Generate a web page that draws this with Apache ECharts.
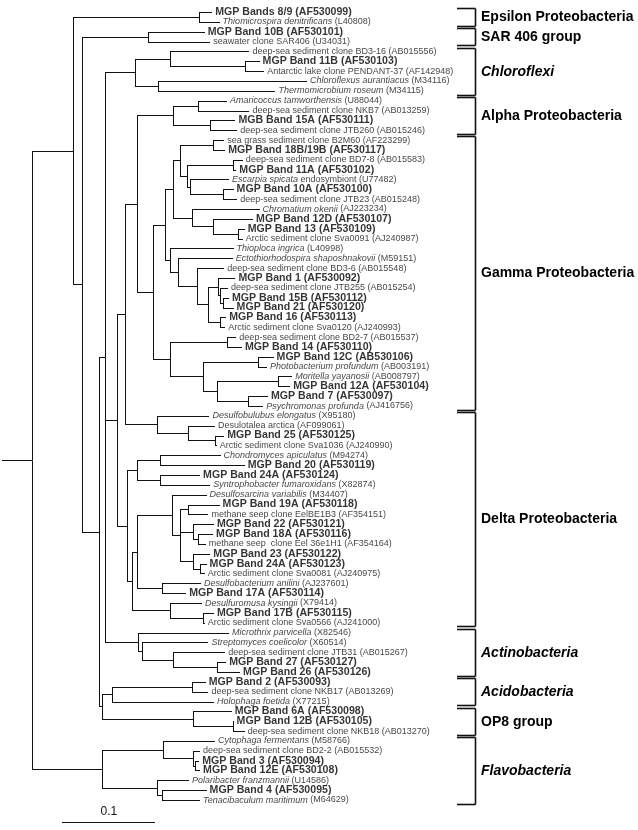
<!DOCTYPE html>
<html><head><meta charset="utf-8">
<script src="https://cdn.jsdelivr.net/npm/echarts@6/dist/echarts.min.js"></script>
<style>html,body{margin:0;padding:0;background:#fff}#c{width:638px;height:830px}</style>
</head><body><div id="c"></div>
<script>
// ---- data ----
const leafLabels = [
'MGP Bands 8/9 (AF530099)','_Thiomicrospira denitrificans_ (L40808)','MGP Band 10B (AF530101)','seawater clone SAR406 (U34031)',
'deep-sea sediment clone BD3-16 (AB015556)','MGP Band 11B (AF530103)','Antarctic lake clone PENDANT-37 (AF142948)','_Chloroflexus aurantiacus_ (M34116)',
'_Thermomicrobium roseum_ (M34115)','_Amaricoccus tamworthensis_ (U88044)','deep-sea sediment clone NKB7 (AB013259)','MGB Band 15A (AF530111)',
'deep-sea sediment clone JTB260 (AB015246)','sea grass sediment clone B2M60 (AF223299)','MGP Band 18B/19B (AF530117)','deep-sea sediment clone BD7-8 (AB015583)',
'MGP Band 11A (AF530102)','_Escarpia spicata_ endosymbiont (U77482)','MGP Band 10A (AF530100)','deep-sea sediment clone JTB23 (AB015248)',
'_Chromatium okenii_ (AJ223234)','MGP Band 12D (AF530107)','MGP Band 13 (AF530109)','Arctic sediment clone Sva0091 (AJ240987)',
'_Thioploca ingrica_ (L40998)','_Ectothiorhodospira shaposhnakovii_ (M59151)','deep-sea sediment clone BD3-6 (AB015548)','MGP Band 1 (AF530092)',
'deep-sea sediment clone JTB255 (AB015254)','MGP Band 15B (AF530112)','MGP Band 21 (AF530120)','MGP Band 16 (AF530113)',
'Arctic sediment clone Sva0120 (AJ240993)','deep-sea sediment clone BD2-7 (AB015537)','MGP Band 14 (AF530110)','MGP Band 12C (AB530106)',
'_Photobacterium profundum_ (AB003191)','_Moritella yayanosii_ (AB008797)','MGP Band 12A (AF530104)','MGP Band 7 (AF530097)',
'_Psychromonas profunda_ (AJ416756)','_Desulfobulubus elongatus_ (X95180)','Desulotalea arctica (AF099061)','MGP Band 25 (AF530125)',
'Arctic sediment clone Sva1036 (AJ240990)','_Chondromyces apiculatus_ (M94274)','MGP Band 20 (AF530119)','MGP Band 24A (AF530124)',
'_Syntrophobacter fumaroxidans_ (X82874)','_Desulfosarcina variabilis_ (M34407)','MGP Band 19A (AF530118)','methane seep clone EelBE1B3 (AF354151)',
'MGP Band 22 (AF530121)','MGP Band 18A (AF530116)','methane seep  clone Eel 36e1H1 (AF354164)','MGP Band 23 (AF530122)',
'MGP Band 24A (AF530123)','Arctic sediment clone Sva0081 (AJ240975)','_Desulfobacterium anilini_ (AJ237601)','MGP Band 17A (AF530114)',
'_Desulfuromusa kysingii_ (X79414)','MGP Band 17B (AF530115)','Arctic sediment clone Sva0566 (AJ241000)','_Microthrix parvicella_ (X82546)',
'_Streptomyces coelicolor_ (X60514)','deep-sea sediment clone JTB31 (AB015267)','MGP Band 27 (AF530127)','MGP Band 26 (AF530126)',
'MGP Band 2 (AF530093)','deep-sea sediment clone NKB17 (AB013269)','_Holophaga foetida_ (X77215)','MGP Band 6A (AF530098)',
'MGP Band 12B (AF530105)','deep-sea sediment clone NKB18 (AB013270)','_Cytophaga fermentans_ (M58766)','deep-sea sediment clone BD2-2 (AB015532)',
'MGP Band 3 (AF530094)','MGP Band 12E (AF530108)','_Polaribacter franzmannii_ (U14586)','MGP Band 4 (AF530095)',
'_Tenacibaculum maritimum_ (M64629)'
];
// cumulative distance from root to each leaf (substitutions per site)
const leafDepth = [
0.226,0.234,0.218,0.224,0.266,0.277,0.282,0.328,0.294,0.242,0.266,0.251,0.253,0.239,0.240,0.259,
0.252,0.244,0.249,0.253,0.277,0.270,0.261,0.259,0.249,0.248,0.239,0.251,0.243,0.244,0.249,0.241,
0.240,0.252,0.258,0.292,0.285,0.312,0.310,0.286,0.281,0.223,0.229,0.239,0.231,0.235,0.261,0.213,
0.224,0.220,0.234,0.222,0.228,0.227,0.219,0.224,0.220,0.218,0.214,0.198,0.215,0.228,0.218,0.244,
0.222,0.240,0.241,0.256,0.219,0.222,0.228,0.247,0.249,0.261,0.229,0.213,0.212,0.213,0.201,0.220,
0.213
];
// internal nodes: [id, cumulative distance, children (leaf index or node id)]
const treeNodes = [
['R',0.032,['N73','F101']],['N73',0.076,['E','N82']],['E',0.212,[0,1]],['N82',0.086,['S','NX']],['S',0.157,[2,3]],
['NX',0.104,['T','AO']],['T',0.111,['C','N117','Act']],
['C',0.143,['C1','C2']],['C1',0.181,[4,'C11']],['C11',0.261,[5,6]],['C2',0.168,[7,8]],
['N117',0.124,['N125','N127']],['N125',0.132,['AG','D157']],['AG',0.145,['A','G']],
['A',0.184,['A1','A2']],['A1',0.211,[9,10]],['A2',0.224,[11,12]],
['G',0.162,['GT','Gw']],['GT',0.175,['Gt12','Gg3']],['Gt12',0.184,['Gg1','Gg2']],
['Gg1',0.191,['Gg11','Gg12']],['Gg11',0.227,[13,14]],['Gg12',0.199,['Gg121','Gg122']],['Gg121',0.248,[15,16]],
['Gg122',0.202,[17,'Gg1221']],['Gg1221',0.238,[18,19]],['Gg2',0.204,[20,'Gg21']],['Gg21',0.227,[21,'Gg211']],
['Gg211',0.254,[22,23]],['Gg3',0.181,[24,'Gg31']],['Gg31',0.189,[25,'Gg311']],['Gg311',0.210,[26,'Ga']],
['Ga',0.222,['Gb','Ge']],['Gb',0.232,[27,'Gc']],['Gc',0.234,[28,'Gd']],['Gd',0.238,[29,30]],['Ge',0.234,[31,32]],
['Gw',0.181,['G14','Gv']],['G14',0.242,[33,34]],['Gv',0.216,['G12C','Gm']],['G12C',0.275,[35,36]],
['Gm',0.231,['G278','G248']],['G278',0.297,[37,38]],['G248',0.265,[39,40]],
['D157',0.167,[41,'D188']],['D188',0.200,[42,'D217']],['D217',0.229,[43,44]],
['N127',0.134,['D137a','N132']],['D137a',0.145,['D160a','D160b']],['D160a',0.170,[45,46]],['D160b',0.170,[47,48]],
['N132',0.140,['D137b','D170']],['D137b',0.145,['D172','D162']],['D172',0.183,[49,'D180']],
['D180',0.191,['D188b','D193a','D193b']],['D188b',0.200,[50,51]],
['D193a',0.205,[52,'D198']],['D198',0.211,[53,54]],['D193b',0.205,[55,'D200']],['D200',0.213,[56,57]],
['D162',0.172,[58,59]],['D170',0.181,[60,'D203']],['D203',0.216,[61,62]],
['Act',0.146,[63,'A142']],['A142',0.151,[64,'A173']],['A173',0.184,[65,'A217']],['A217',0.231,[66,67]],
['AO',0.108,['Ac','OP']],['Ac',0.118,['Ac192',70]],['Ac192',0.204,[68,69]],['OP',0.205,[71,'OP233']],['OP233',0.248,[72,73]],
['F101',0.107,['F163','F157']],['F163',0.173,[74,'F193']],['F193',0.205,[75,'F195']],['F195',0.208,[76,77]],
['F157',0.167,[78,'F162']],['F162',0.172,[79,80]]
];
const groupNames  = ['Epsilon Proteobacteria','SAR 406 group','Chloroflexi','Alpha Proteobacteria','Gamma Proteobacteria','Delta Proteobacteria','Actinobacteria','Acidobacteria','OP8 group','Flavobacteria'];
const groupFirst  = [0,2,4,9,13,41,63,68,71,74];
const groupLast   = [1,3,8,12,40,62,67,70,73,80];
const groupItalic = [false,false,true,false,false,false,true,true,false,true];
const scaleStart = 0.065, scaleLength = 0.1, scaleLabel = '0.1';

// ---- build tree geometry (in data units) ----
const nodeMap = {};
treeNodes.forEach(n => nodeMap[n[0]] = {d: n[1], ch: n[2]});
const yCache = {};
function nodeY(c){
  if (typeof c === 'number') return c;
  if (yCache[c] !== undefined) return yCache[c];
  const ch = nodeMap[c].ch;
  return yCache[c] = (nodeY(ch[0]) + nodeY(ch[ch.length-1])) / 2;
}
function nodeD(c){ return typeof c === 'number' ? leafDepth[c] : nodeMap[c].d; }
const segments = [];
treeNodes.forEach(n => {
  const d = n[1], ch = n[2];
  segments.push([d, nodeY(ch[0]), d, nodeY(ch[ch.length-1])]);
  ch.forEach(c => segments.push([d, nodeY(c), nodeD(c), nodeY(c)]));
});
segments.push([0, nodeY('R'), nodeMap['R'].d, nodeY('R')]);

const FONT = '"Liberation Sans", Arial, sans-serif';
function richLabel(s){
  const bold = s.indexOf('MG') === 0;
  if (bold) return '{b|' + s + '}';
  return s.split('_').map((p, k) => p ? (k % 2 ? '{i|' + p + '}' : '{n|' + p + '}') : '').join('');
}
const leafData = leafDepth.map((d, i) => [d, i]);

const chart = echarts.init(document.getElementById('c'), null, {renderer: 'canvas'});
const snap = v => Math.round(v) + 0.5;
chart.setOption({
  animation: false,
  backgroundColor: '#fff',
  grid: {left: 2, top: 12, width: 558, height: 788},
  xAxis: {type: 'value', min: 0, max: 0.6, show: false},
  yAxis: {type: 'value', min: 0, max: 80, inverse: true, show: false},
  series: [
    {
      type: 'custom', clip: false, silent: true,
      data: segments,
      renderItem: (params, api) => {
        const a = api.coord([api.value(0), api.value(1)]);
        const b = api.coord([api.value(2), api.value(3)]);
        const vertical = Math.abs(a[0] - b[0]) < 0.01;
        return {type: 'line', shape: vertical ? {x1: snap(a[0]), y1: Math.round(a[1]), x2: snap(b[0]), y2: Math.round(b[1]) + 1}
                                               : {x1: Math.round(a[0]), y1: snap(a[1]), x2: Math.round(b[0]), y2: snap(b[1])},
                style: {stroke: '#111', lineWidth: 1}};
      }
    },
    {
      type: 'scatter', symbolSize: 0, silent: true,
      data: leafData,
      label: {
        show: true, position: 'right', distance: 3,
        formatter: p => richLabel(leafLabels[p.dataIndex]),
        fontFamily: FONT, fontSize: 9, color: '#111',
        rich: {
          b: {fontFamily: FONT, fontSize: 10.6, fontWeight: 'bold', color: '#000'},
          i: {fontFamily: FONT, fontSize: 9, fontStyle: 'italic', color: '#111'},
          n: {fontFamily: FONT, fontSize: 9, color: '#111'}
        }
      }
    },
    {
      type: 'custom', clip: false, silent: true,
      data: groupNames.map((g, i) => [groupFirst[i], groupLast[i], i]),
      renderItem: (params, api) => {
        const i = api.value(2);
        const top = snap(api.coord([0, api.value(0) - 0.38])[1]);
        const bot = snap(api.coord([0, api.value(1) + 0.38])[1]);
        const xv = 475.5, xt = 457;
        const st = {stroke: '#111', lineWidth: 1.6};
        return {type: 'group', children: [
          {type: 'line', shape: {x1: xt, y1: top, x2: xv, y2: top}, style: st},
          {type: 'line', shape: {x1: xt, y1: bot, x2: xv, y2: bot}, style: st},
          {type: 'line', shape: {x1: xv, y1: top, x2: xv, y2: bot}, style: st},
          {type: 'text', x: 481, y: (top + bot) / 2,
           style: {text: groupNames[i], fill: '#000',
                   font: (groupItalic[i] ? 'italic ' : '') + 'bold 14px ' + FONT,
                   textAlign: 'left', textVerticalAlign: 'middle', align: 'left', verticalAlign: 'middle'}}
        ]};
      }
    },
    {
      type: 'custom', clip: false, silent: true,
      data: [[scaleStart, scaleLength]],
      renderItem: (params, api) => {
        const a = api.coord([api.value(0), 82.2]);
        const b = api.coord([api.value(0) + api.value(1), 82.2]);
        return {type: 'group', children: [
          {type: 'line', shape: {x1: Math.round(a[0]), y1: snap(a[1]), x2: Math.round(b[0]), y2: snap(b[1])}, style: {stroke: '#111', lineWidth: 1.2}},
          {type: 'text', x: (a[0] + b[0]) / 2, y: a[1] - 10,
           style: {text: scaleLabel, fill: '#111', font: '12px ' + FONT, textAlign: 'center', textVerticalAlign: 'middle', align: 'center', verticalAlign: 'middle'}}
        ]};
      }
    }
  ]
});
</script>
</body></html>
